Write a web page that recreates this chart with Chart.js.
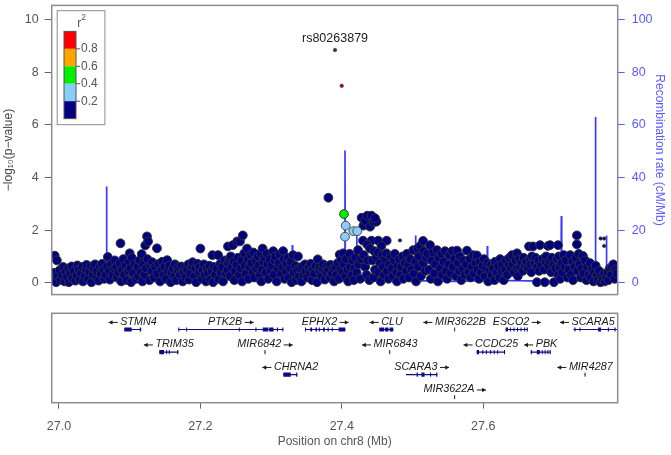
<!DOCTYPE html>
<html>
<head>
<meta charset="utf-8">
<script src="https://cdn.jsdelivr.net/npm/chart.js@4.4.1/dist/chart.umd.min.js"></script>
<style>
  body { margin: 0; background: #fff; }
  #wrap { position: relative; width: 671px; height: 455px; }
  canvas { position: absolute; left: 0; }
  #assocChart { top: 0; }
  #geneChart { top: 300px; }
</style>
</head>
<body>
<div id="wrap">
  <canvas id="assocChart" width="671" height="300"></canvas>
  <canvas id="geneChart" width="671" height="155"></canvas>
</div>
<script>
// ---- data (Mb, -log10 p, cM/Mb) ----
const leadName = 'rs80263879';
const leadSnp = [[27.3904, 8.84]];
const darkRedSnps = [[27.3999, 7.48]];
const greenSnps = [[27.4031, 2.61]];
const lightBlueSnps = [[27.4055, 2.17], [27.4045, 1.75], [27.4163, 1.96], [27.4219, 1.96]];
const smallSnps = [[27.4823, 1.61], [27.766, 1.68], [27.771, 1.68], [27.771, 1.40]];
const navySnps = [
  [26.991,0.12],[26.993,0.38],[26.994,1.03],[26.996,0.02],[26.997,0.85],[26.998,0.26],
  [27.001,0.48],[27.002,0.1],[27.004,0.3],[27.006,0.6],[27.008,0.05],[27.009,0.4],
  [27.011,0.22],[27.013,0.55],[27.014,0.02],[27.016,0.35],[27.018,0.62],[27.019,0.15],
  [27.021,0.45],[27.023,0.08],[27.025,0.28],[27.026,0.66],[27.028,0.5],[27.029,0.12],
  [27.031,0.38],[27.033,0.6],[27.034,0.05],[27.036,0.25],[27.038,0.52],[27.039,0.68],
  [27.041,0.15],[27.043,0.42],[27.045,0.62],[27.046,0.02],[27.048,0.3],[27.049,0.55],
  [27.051,0.7],[27.053,0.2],[27.054,0.45],[27.056,0.08],[27.058,0.62],[27.059,0.35],
  [27.061,0.72],[27.063,0.5],[27.064,0.15],[27.066,0.3],[27.068,0.62],[27.069,0.98],
  [27.071,0.45],[27.072,0.12],[27.074,0.7],[27.076,0.3],[27.078,0.55],[27.079,0.85],
  [27.081,0.6],[27.082,0.2],[27.084,0.4],[27.086,0.75],[27.087,1.5],[27.088,0.05],[27.089,0.5],
  [27.091,0.9],[27.092,0.3],[27.094,0.65],[27.096,0.1],[27.098,0.45],[27.099,0.8],[27.1,1.12],
  [27.101,0.55],[27.102,0.02],[27.103,0.95],[27.105,0.35],[27.107,0.7],[27.109,0.15],
  [27.111,0.6],[27.112,0.25],[27.114,0.85],[27.116,0.4],[27.117,1.09],[27.118,0.05],[27.119,0.7],
  [27.122,1.42],[27.1245,1.76],[27.126,1.57],[27.121,0.3],[27.123,0.55],[27.125,0.9],[27.128,0.1],[27.129,0.65],
  [27.131,0.45],[27.132,0.78],[27.134,0.2],[27.136,0.6],[27.1386,1.31],[27.139,0.35],
  [27.141,0.72],[27.143,0.05],[27.145,0.5],[27.146,0.8],[27.148,0.3],[27.149,0.6],
  [27.151,0.15],[27.153,0.86],[27.154,0.45],[27.156,0.65],[27.158,0.02],[27.159,0.38],
  [27.161,0.55],[27.163,0.25],[27.164,0.7],[27.166,0.1],[27.168,0.45],[27.169,0.6],
  [27.171,0.3],[27.173,0.62],[27.175,0.05],[27.176,0.4],[27.178,0.58],[27.179,0.2],
  [27.181,0.5],[27.183,0.7],[27.184,0.12],[27.186,0.35],[27.188,0.62],[27.189,0.78],
  [27.191,0.25],[27.193,0.55],[27.194,0.02],[27.196,0.72],[27.198,0.4],[27.199,0.6],
  [27.2,1.3],[27.202,0.15],[27.203,0.48],[27.205,0.7],[27.206,0.3],[27.208,0.05],[27.209,0.55],
  [27.211,0.38],[27.213,0.65],[27.214,0.12],[27.216,0.45],[27.217,1.05],[27.218,0.02],[27.219,0.6],
  [27.221,0.3],[27.223,0.55],[27.225,1.05],[27.226,0.15],[27.228,0.72],[27.229,0.4],
  [27.231,0.6],[27.232,0.05],[27.234,0.85],[27.236,0.35],[27.238,0.5],[27.239,1.38],[27.239,0.75],
  [27.241,0.9],[27.242,0.25],[27.243,1.0],[27.244,0.6],[27.246,1.43],[27.247,0.8],[27.248,0.1],[27.249,0.45],
  [27.251,0.7],[27.252,1.57],[27.253,0.95],[27.255,0.3],[27.256,1.57],[27.257,0.55],[27.258,0.85],[27.259,0.05],
  [27.26,1.8],[27.262,1.12],[27.263,0.65],[27.264,0.35],[27.266,1.3],[27.267,0.9],[27.268,0.15],[27.269,0.6],
  [27.271,1.05],[27.272,0.75],[27.274,0.4],[27.275,1.15],[27.276,0.2],[27.278,0.85],[27.279,0.55],
  [27.281,1.0],[27.282,0.65],[27.284,0.3],[27.285,1.12],[27.286,0.05],[27.287,0.5],[27.288,1.3],[27.289,0.8],
  [27.291,0.95],[27.292,0.4],[27.294,1.1],[27.295,0.7],[27.296,0.15],[27.298,0.9],[27.299,0.5],
  [27.301,0.65],[27.303,1.2],[27.304,0.3],[27.305,0.85],[27.306,1.0],[27.308,0.05],[27.309,0.55],
  [27.311,0.75],[27.312,1.08],[27.314,0.35],[27.316,0.6],[27.317,1.2],[27.318,0.9],[27.319,0.15],
  [27.321,0.45],[27.322,0.72],[27.324,0.95],[27.325,0.2],[27.327,0.55],[27.328,0.8],[27.329,0.02],
  [27.331,1.05],[27.332,0.4],[27.334,0.65],[27.335,0.1],[27.337,0.5],[27.338,1.0],[27.339,0.25],
  [27.341,0.55],[27.343,0.05],[27.344,0.62],[27.346,0.3],[27.348,0.7],[27.349,0.45],
  [27.351,0.2],[27.353,0.6],[27.354,0.4],[27.356,0.72],[27.358,0.1],[27.359,0.5],
  [27.361,0.35],[27.363,0.65],[27.365,0.02],[27.366,0.89],[27.368,0.45],[27.369,0.6],
  [27.371,0.25],[27.373,0.55],[27.374,0.7],[27.376,0.12],[27.378,0.4],[27.379,0.62],
  [27.381,3.23],[27.381,0.5],[27.383,0.2],[27.384,0.68],[27.386,0.35],[27.388,0.55],[27.389,0.05],
  [27.391,0.6],[27.392,0.3],[27.394,0.75],[27.396,0.15],[27.397,1.07],[27.398,0.5],[27.399,0.85],
  [27.401,0.4],[27.402,1.12],[27.403,0.7],[27.405,0.25],[27.406,0.9],[27.408,0.5],[27.409,0.05],
  [27.411,1.1],[27.412,0.6],[27.414,0.3],[27.415,0.85],[27.417,0.1],[27.418,0.55],[27.419,0.95],
  [27.421,0.4],[27.423,1.24],[27.424,0.7],[27.426,0.15],[27.427,0.9],
  [27.428,2.47],[27.4305,2.17],[27.433,2.35],[27.436,2.55],[27.44,2.13],[27.442,2.55],[27.445,2.3],[27.449,2.32],[27.447,2.45],
  [27.43,1.6],[27.442,1.6],[27.4515,1.6],[27.4635,1.6],[27.436,1.45],[27.44,1.3],[27.456,1.4],[27.446,1.2],
  [27.431,1.05],[27.433,0.6],[27.435,0.3],[27.437,0.85],[27.439,0.1],[27.443,0.85],[27.445,0.2],[27.447,0.5],[27.449,0.95],
  [27.451,1.15],[27.452,0.4],[27.454,0.75],[27.455,0.05],[27.457,1.05],[27.458,0.6],[27.459,0.3],
  [27.461,0.9],[27.463,1.12],[27.464,0.45],[27.466,0.15],[27.467,0.7],[27.469,1.0],
  [27.471,0.55],[27.472,0.25],[27.474,0.85],[27.475,1.1],[27.477,0.4],[27.478,0.05],[27.479,0.65],
  [27.481,0.9],[27.483,0.3],[27.484,0.6],[27.486,1.0],[27.487,0.15],[27.489,0.75],
  [27.491,0.45],[27.492,1.1],[27.494,0.7],[27.495,0.2],[27.497,0.9],[27.499,0.5],
  [27.501,1.24],[27.502,0.35],[27.504,0.8],[27.505,0.05],[27.507,1.3],[27.508,0.6],[27.509,1.0],
  [27.511,1.4],[27.512,0.25],[27.515,1.59],[27.515,0.75],[27.516,1.2],[27.518,0.45],[27.519,0.95],
  [27.521,1.1],[27.523,0.5],[27.5247,1.43],[27.526,0.15],[27.527,0.85],[27.529,1.15],
  [27.531,0.35],[27.532,0.7],[27.5346,1.24],[27.536,0.05],[27.537,0.95],[27.539,0.55],
  [27.541,1.1],[27.542,0.3],[27.544,0.8],[27.546,1.2],[27.547,0.45],[27.549,0.15],
  [27.551,0.7],[27.552,1.05],[27.554,0.35],[27.556,1.2],[27.557,0.6],[27.559,0.9],
  [27.561,0.25],[27.563,1.22],[27.564,0.75],[27.566,0.45],[27.567,1.0],[27.569,0.1],
  [27.571,0.55],[27.572,0.85],[27.574,0.3],[27.576,0.7],[27.577,1.22],[27.579,0.4],
  [27.581,0.9],[27.582,0.2],[27.584,0.6],[27.586,1.05],[27.587,0.35],[27.589,0.75],
  [27.591,1.04],[27.592,0.5],[27.594,0.15],[27.595,0.8],[27.597,0.4],[27.599,0.65],
  [27.601,0.9],[27.602,0.25],[27.604,0.55],[27.606,0.75],[27.607,0.05],[27.609,0.45],
  [27.611,0.7],[27.612,0.3],[27.614,0.55],[27.616,0.1],[27.617,0.8],[27.619,0.4],
  [27.621,0.62],[27.623,0.2],[27.624,0.9],[27.626,0.45],[27.627,0.7],[27.629,0.1],
  [27.631,0.5],[27.632,0.85],[27.634,0.3],[27.636,0.65],[27.637,0.95],[27.639,0.55],
  [27.6407,1.05],[27.642,0.7],[27.644,0.4],[27.6478,1.12],[27.646,0.85],[27.648,0.55],[27.649,0.25],
  [27.651,0.9],[27.652,0.6],[27.654,0.75],[27.656,0.45],[27.657,0.95],[27.659,0.65],
  [27.661,0.8],[27.6648,1.38],[27.663,0.55],[27.666,0.9],[27.667,0.7],[27.669,1.0],[27.668,0.4],
  [27.6704,1.38],[27.672,0.75],[27.674,0.95],[27.676,0.02],[27.676,0.6],[27.678,0.85],[27.679,0.45],
  [27.6803,1.43],[27.682,0.7],[27.684,0.9],[27.686,0.5],[27.687,0.02],[27.688,0.8],[27.689,1.0],
  [27.6916,1.4],[27.6945,1.43],[27.692,0.65],[27.694,0.85],[27.696,0.4],[27.697,0.95],[27.699,0.7],[27.7,0.02],
  [27.7058,1.43],[27.702,0.55],[27.704,0.9],[27.706,0.3],[27.707,1.0],[27.708,0.6],[27.709,0.15],
  [27.711,0.75],[27.712,0.4],[27.714,1.05],[27.7157,0.6],[27.717,0.85],[27.719,0.2],
  [27.721,0.5],[27.723,1.05],[27.724,0.3],[27.726,0.8],[27.727,0.1],[27.729,0.6],
  [27.7325,1.8],[27.7325,1.46],[27.731,0.95],[27.733,0.45],[27.735,1.1],[27.736,0.7],[27.738,0.2],[27.739,0.55],
  [27.741,1.02],[27.742,0.35],[27.744,0.85],[27.746,0.1],[27.747,0.6],[27.749,0.3],
  [27.751,0.75],[27.752,0.2],[27.754,0.5],[27.756,0.05],[27.757,0.4],[27.759,0.65],
  [27.761,0.3],[27.762,0.1],[27.764,0.45],[27.766,0.02],[27.767,0.25],[27.769,0.12],
  [27.771,0.35],[27.772,0.05],[27.774,0.2],[27.776,0.4],[27.777,0.1],[27.779,0.55],
  [27.781,0.3],[27.782,0.6],[27.784,0.7],[27.786,0.15],[27.787,0.5],[27.789,0.35]
];
const recombRate = [
  [26.990,1.0],[27.010,0.8],[27.030,1.2],[27.050,0.9],[27.0666,1.0],[27.0672,36.6],[27.0678,2.5],
  [27.080,1.8],[27.095,1.2],[27.1140,1.5],[27.1145,6.8],[27.1150,1.0],[27.130,0.6],[27.150,0.8],
  [27.170,1.0],[27.190,0.6],[27.210,0.9],[27.230,1.2],[27.2507,1.5],[27.2512,3.0],[27.2517,1.0],
  [27.270,0.8],[27.290,0.6],[27.310,0.8],[27.3295,1.2],[27.3300,14.3],[27.3305,1.0],[27.350,0.7],
  [27.370,0.9],[27.390,0.6],[27.4040,0.8],[27.4045,50.2],[27.4050,1.5],[27.415,1.2],[27.4207,1.2],
  [27.4212,19.5],[27.4217,1.0],[27.440,0.8],[27.4530,0.8],[27.4535,4.5],[27.4540,1.2],[27.4670,1.1],
  [27.4675,7.5],[27.4680,1.0],[27.490,0.6],[27.5040,0.6],[27.5045,18],[27.5050,0.8],[27.530,0.6],
  [27.560,0.5],[27.590,0.7],[27.6053,0.7],[27.6058,14],[27.6063,1.0],[27.630,0.8],[27.6510,0.8],
  [27.6515,2.5],[27.6520,0.8],[27.680,0.6],[27.7100,0.6],[27.7105,25.4],[27.7110,1.2],[27.740,0.8],
  [27.7582,0.8],[27.7587,63],[27.7592,1.0],[27.7737,1.0],[27.7742,18],[27.7747,0.8],[27.790,0.5]
];
const logPTicks = [0, 2, 4, 6, 8, 10];
const recombTicks = [0, 20, 40, 60, 80, 100];
const posTicks = [27, 27.2, 27.4, 27.6];
const r2Labels = ['0.8', '0.6', '0.4', '0.2'];

const geneNames  = ['STMN4','PTK2B','EPHX2','CLU','MIR3622B','ESCO2','SCARA5','TRIM35','MIR6842','MIR6843','CCDC25','PBK','CHRNA2','SCARA3','MIR4287','MIR3622A'];
const geneStart  = [27.0924,27.1688,27.3480,27.4530,27.5590,27.6318,27.7275,27.1419,27.2908,27.4672,27.5908,27.6672,27.3173,27.4908,27.7434,27.5590];
const geneEnd    = [27.1162,27.3173,27.4050,27.4728,27.5602,27.6630,27.7960,27.1688,27.2920,27.4684,27.6309,27.6955,27.3371,27.5351,27.7446,27.5602];
const geneStrand = [-1,1,1,-1,-1,1,-1,-1,1,-1,-1,-1,-1,1,-1,1];
const geneRow    = [1,1,1,1,1,1,1,2,2,2,2,2,3,3,3,4];
const geneExons  = [
  [[27.0924,27.1028],[27.1142,27.1162]],
  [[27.1688,27.1702],[27.1798,27.1812],[27.2543,27.2557],[27.2778,27.2793],[27.2881,27.2960],[27.2972,27.3035],[27.3082,27.3098],[27.3158,27.3173]],
  [[27.3480,27.3494],[27.3555,27.3580],[27.3628,27.3650],[27.3675,27.3690],[27.3735,27.3760],[27.3798,27.3815],[27.3858,27.3872],[27.3955,27.4050]],
  [[27.4530,27.4600],[27.4612,27.4660],[27.4676,27.4728]],
  [[27.5590,27.5602]],
  [[27.6318,27.6350],[27.6378,27.6392],[27.6428,27.6442],[27.6478,27.6492],[27.6528,27.6542],[27.6578,27.6592],[27.6614,27.6630]],
  [[27.7290,27.7306],[27.7362,27.7376],[27.7625,27.7665],[27.7762,27.7778],[27.7856,27.7872]],
  [[27.1419,27.1485],[27.1516,27.1530],[27.1553,27.1567],[27.1672,27.1688]],
  [[27.2908,27.2920]],
  [[27.4672,27.4684]],
  [[27.5908,27.5940],[27.5988,27.6002],[27.6038,27.6052],[27.6098,27.6112],[27.6148,27.6162],[27.6198,27.6212],[27.6294,27.6309]],
  [[27.6672,27.6688],[27.6758,27.6800],[27.6828,27.6842],[27.6868,27.6882],[27.6908,27.6922],[27.6940,27.6955]],
  [[27.3173,27.3278],[27.3355,27.3371]],
  [[27.4908,27.4920],[27.5058,27.5075],[27.5125,27.5170],[27.5248,27.5262],[27.5335,27.5351]],
  [[27.7434,27.7446]],
  [[27.5590,27.5602]]
];

// ---- shared setup ----
const X_MIN = 26.9897, X_MAX = 27.7902;
const GENE_COLOR = '#0b0b86';
Chart.defaults.font.family = '"Liberation Sans", Arial, sans-serif';
const toXY = arr => arr.map(([x, y]) => ({x, y}));

// grey box round the plotting area
const frame = {
  id: 'frame',
  afterDatasetsDraw(chart) {
    const {ctx, chartArea: a} = chart;
    ctx.save();
    ctx.strokeStyle = '#8c8c8c';
    ctx.lineWidth = 1.5;
    ctx.strokeRect(a.left, a.top, a.right - a.left, a.bottom - a.top);
    ctx.restore();
  }
};

// r^2 colour key in the top-left corner
const r2Key = {
  id: 'r2Key',
  afterDraw(chart) {
    const {ctx, chartArea: a} = chart;
    const colors = ['#ff0000', '#ffa500', '#00ee00', '#87cefa', '#000080'];
    const bx = a.left + 12.3, by = a.top + 26, seg = 17.45;
    ctx.save();
    ctx.fillStyle = '#fff';
    ctx.strokeStyle = '#8c8c8c';
    ctx.lineWidth = 1;
    ctx.fillRect(a.left + 5.5, a.top + 5.3, 47.7, 114);
    ctx.strokeRect(a.left + 5.5, a.top + 5.3, 47.7, 114);
    colors.forEach((c, i) => {
      ctx.fillStyle = c;
      ctx.fillRect(bx, by + i * seg, 12, seg);
    });
    ctx.strokeStyle = '#555';
    ctx.strokeRect(bx, by, 12, seg * 5);
    ctx.fillStyle = '#555';
    ctx.font = '12px "Liberation Sans", Arial, sans-serif';
    ctx.textBaseline = 'middle';
    r2Labels.forEach((t, i) => {
      const yy = by + (i + 1) * seg;
      ctx.beginPath();
      ctx.moveTo(bx + 12, yy);
      ctx.lineTo(bx + 16, yy);
      ctx.stroke();
      ctx.fillText(t, bx + 17, yy);
    });
    ctx.fillText('r', a.left + 25.5, a.top + 18);
    ctx.font = '8.5px "Liberation Sans", Arial, sans-serif';
    ctx.fillText('2', a.left + 29.5, a.top + 12);
    ctx.restore();
  }
};

// name of the index SNP above its point
const leadLabel = {
  id: 'leadLabel',
  afterDatasetsDraw(chart) {
    const {ctx, scales} = chart;
    const px = scales.x.getPixelForValue(leadSnp[0][0]);
    const py = scales.y.getPixelForValue(leadSnp[0][1]);
    ctx.save();
    ctx.fillStyle = '#222';
    ctx.font = '12.5px "Liberation Sans", Arial, sans-serif';
    ctx.textAlign = 'center';
    ctx.textBaseline = 'middle';
    ctx.fillText(leadName, px, py - 11.5);
    ctx.restore();
  }
};

// ---- association panel ----
new Chart(document.getElementById('assocChart'), {
  type: 'scatter',
  data: {
    datasets: [
      {data: toXY(leadSnp), pointRadius: 1.8, backgroundColor: '#2e2e4e', borderColor: '#2e2e4e', borderWidth: 0.5},
      {data: toXY(darkRedSnps), pointRadius: 1.8, backgroundColor: '#7a1530', borderColor: '#7a1530', borderWidth: 0.5},
      {data: toXY(smallSnps), pointRadius: 1.7, backgroundColor: '#1a1a40', borderColor: '#1a1a40', borderWidth: 0.5},
      {data: toXY(greenSnps), pointRadius: 4.4, backgroundColor: '#00ee00', borderColor: '#3a3a3a', borderWidth: 1},
      {data: toXY(lightBlueSnps), pointRadius: 4.4, backgroundColor: '#87cefa', borderColor: '#4a4a4a', borderWidth: 1},
      {data: toXY(navySnps), pointRadius: 4.4, backgroundColor: '#000080', borderColor: '#333333', borderWidth: 1},
      {data: toXY(recombRate), yAxisID: 'yR', showLine: true, pointRadius: 0,
       borderColor: '#3a3aff', borderWidth: 1.7, tension: 0}
    ]
  },
  options: {
    responsive: false,
    animation: false,
    events: [],
    layout: {padding: {top: 4, bottom: 2.3, left: 0, right: 0}},
    plugins: {legend: {display: false}, tooltip: {enabled: false}},
    scales: {
      x: {type: 'linear', display: false, min: X_MIN, max: X_MAX},
      y: {
        position: 'left', min: -0.449, max: 10.535,
        afterBuildTicks: s => { s.ticks = logPTicks.map(v => ({value: v})); },
        afterFit: s => { s.width = 51.7; s.paddingTop = 0; s.paddingBottom = 0; },
        grid: {drawOnChartArea: false, tickLength: 7, tickColor: '#666', tickWidth: 1},
        border: {display: false},
        ticks: {color: '#555', font: {size: 12.5}, padding: 6},
        title: {display: true, text: '\u2212log\u2081\u2080(p\u2212value)', color: '#444',
                font: {size: 12}, padding: {top: 1, bottom: 0}}
      },
      yR: {
        position: 'right', min: -4.49, max: 105.35,
        afterBuildTicks: s => { s.ticks = recombTicks.map(v => ({value: v})); },
        afterFit: s => { s.width = 53.3; s.paddingTop = 0; s.paddingBottom = 0; },
        grid: {drawOnChartArea: false, tickLength: 7, tickColor: '#5a5aff', tickWidth: 1},
        border: {display: false},
        ticks: {color: '#5a5aff', font: {size: 12.5}, padding: 7},
        title: {display: true, text: 'Recombination rate (cM/Mb)', color: '#5a5aff',
                font: {size: 12}, padding: {top: 4, bottom: 0}}
      }
    }
  },
  plugins: [frame, r2Key, leadLabel]
});

// ---- gene panel ----
const geneDatasets = [];
geneNames.forEach((name, i) => {
  const row = geneRow[i];
  geneDatasets.push({
    data: [{x: geneStart[i], y: row}, {x: geneEnd[i], y: row}],
    showLine: true, pointRadius: 0, borderColor: GENE_COLOR, borderWidth: 1.2, clip: 0
  });
  const pts = [];
  geneExons[i].forEach(([s, e]) => { pts.push({x: s, y: row}, {x: e, y: row}, {x: e, y: null}); });
  geneDatasets.push({
    data: pts, showLine: true, spanGaps: false, pointRadius: 0,
    borderColor: GENE_COLOR, borderWidth: 4.2, borderCapStyle: 'butt', clip: 0
  });
});

// gene names with a strand arrow, centred over each gene
const geneLabels = {
  id: 'geneLabels',
  afterDatasetsDraw(chart) {
    const {ctx, scales, chartArea: a} = chart;
    const arrowLen = 9, gap = 2.5;
    ctx.save();
    ctx.fillStyle = '#1a1a1a';
    ctx.strokeStyle = '#1a1a1a';
    ctx.lineWidth = 1;
    ctx.font = 'italic 10.8px "Liberation Sans", Arial, sans-serif';
    ctx.textBaseline = 'middle';
    ctx.textAlign = 'left';
    geneNames.forEach((name, i) => {
      const tw = ctx.measureText(name).width;
      const total = arrowLen + gap + tw;
      let cx = (scales.x.getPixelForValue(geneStart[i]) + scales.x.getPixelForValue(geneEnd[i])) / 2;
      cx = Math.min(cx, a.right - 3 - total / 2);
      const cy = scales.y.getPixelForValue(geneRow[i]) - 7.6;
      const x0 = cx - total / 2;
      let ax0, ax1, tip, dir;
      if (geneStrand[i] < 0) {
        ax0 = x0; ax1 = x0 + arrowLen; tip = ax0; dir = 1;
        ctx.fillText(name, x0 + arrowLen + gap, cy);
      } else {
        ctx.fillText(name, x0, cy);
        ax0 = x0 + tw + gap; ax1 = ax0 + arrowLen; tip = ax1; dir = -1;
      }
      ctx.beginPath();
      ctx.moveTo(ax0, cy + 0.5);
      ctx.lineTo(ax1, cy + 0.5);
      ctx.stroke();
      ctx.beginPath();
      ctx.moveTo(tip, cy + 0.5);
      ctx.lineTo(tip + dir * 3.8, cy + 0.5 - 2.2);
      ctx.lineTo(tip + dir * 3.8, cy + 0.5 + 2.2);
      ctx.closePath();
      ctx.fill();
    });
    ctx.restore();
  }
};

new Chart(document.getElementById('geneChart'), {
  type: 'scatter',
  data: {datasets: geneDatasets},
  options: {
    responsive: false,
    animation: false,
    events: [],
    layout: {padding: {top: 13.3, left: 51.7, right: 53.3, bottom: 0}},
    plugins: {legend: {display: false}, tooltip: {enabled: false}},
    scales: {
      x: {
        type: 'linear', min: X_MIN, max: X_MAX,
        afterBuildTicks: s => { s.ticks = posTicks.map(v => ({value: v})); },
        afterFit: s => { s.height = 52.3; s.paddingLeft = 0; s.paddingRight = 0; },
        grid: {drawOnChartArea: false, tickLength: 6, tickColor: '#666', tickWidth: 1},
        border: {display: false},
        ticks: {color: '#555', font: {size: 12.5}, padding: 10, maxRotation: 0, autoSkip: false},
        title: {display: true, text: 'Position on chr8 (Mb)', color: '#555',
                font: {size: 12}, padding: {top: 0, bottom: 6}}
      },
      y: {display: false, min: 0.28, max: 4.25, reverse: true}
    }
  },
  plugins: [frame, geneLabels]
});
</script>
</body>
</html>
